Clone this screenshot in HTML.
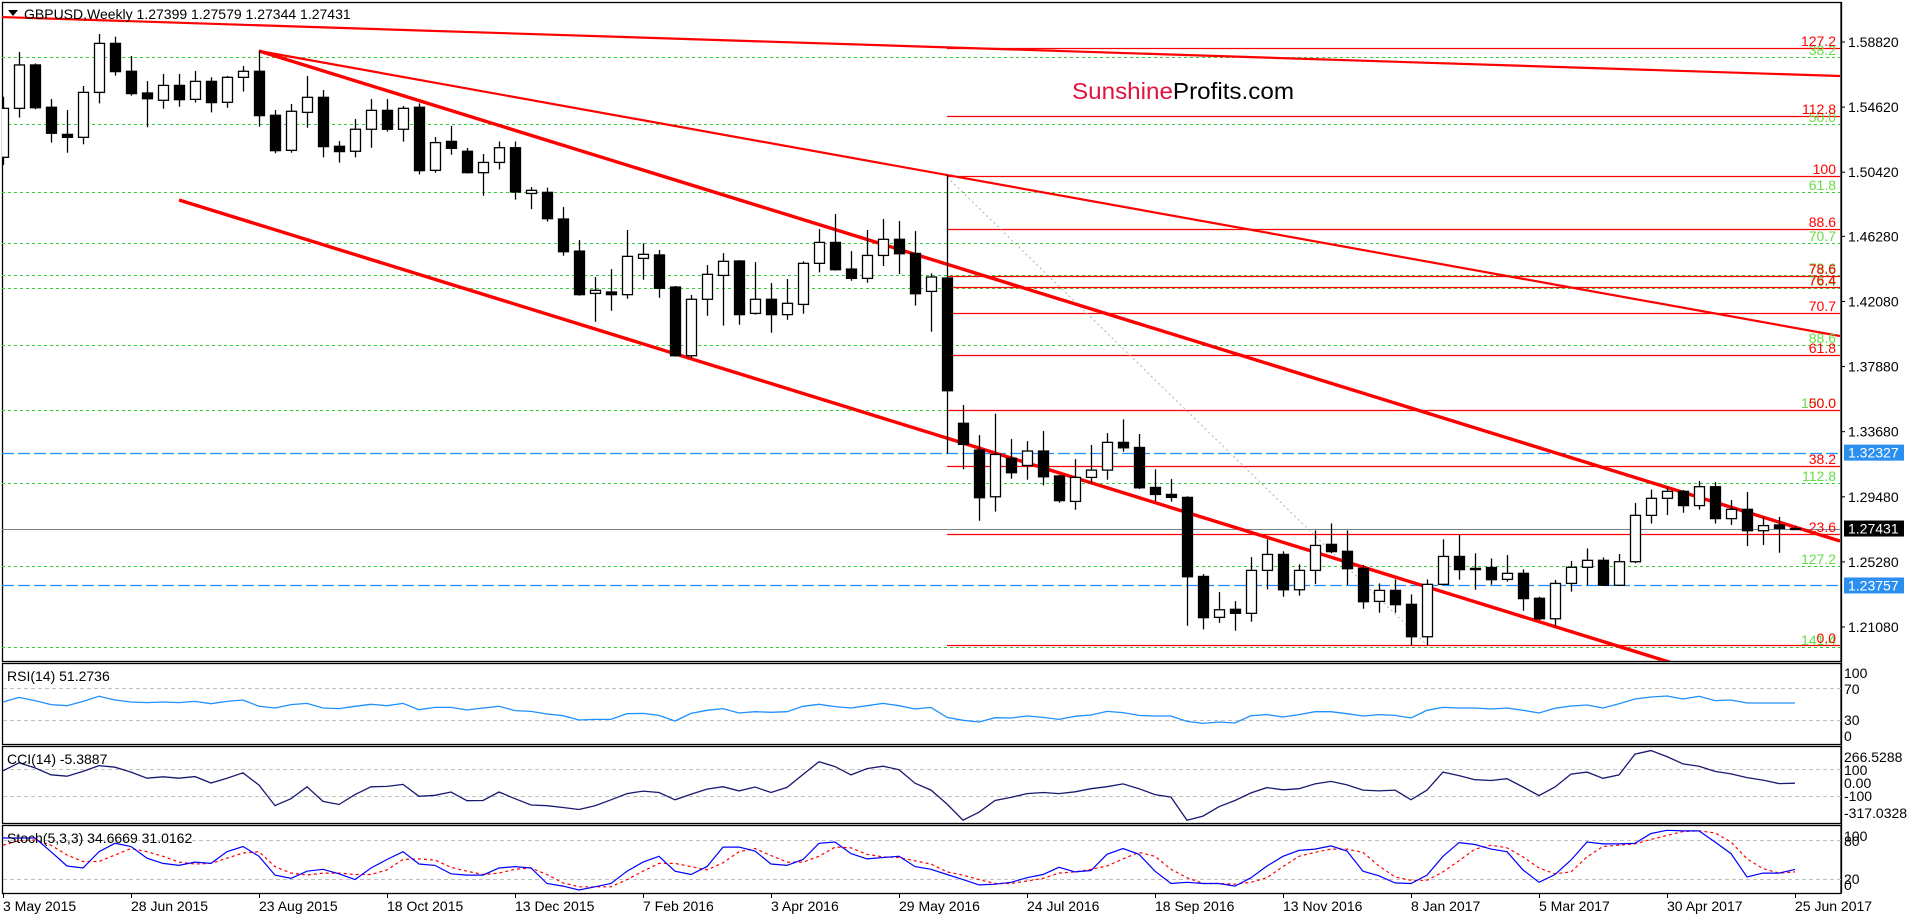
<!DOCTYPE html>
<html><head><meta charset="utf-8"><title>GBPUSD Weekly</title>
<style>
html,body{margin:0;padding:0;background:#fff;}
svg{display:block;font-family:"Liberation Sans",sans-serif;}
</style></head>
<body>
<svg id="chart" width="1908" height="920" viewBox="0 0 1908 920" xmlns="http://www.w3.org/2000/svg">
<defs><clipPath id="mainClip"><rect x="2" y="2" width="1838" height="659"/></clipPath></defs>
<rect x="0" y="0" width="1908" height="920" fill="#fff"/>
<g id="mainPanel"></g>
<g id="rsiPanel"></g>
<g id="cciPanel"></g>
<g id="stochPanel"></g>
<g id="axisG"></g>
</svg>
<script>
const opens=[1.5138,1.5454,1.5734,1.5461,1.5286,1.5267,1.5557,1.5873,1.5693,1.5553,1.5506,1.5602,1.5512,1.5628,1.5493,1.5654,1.5693,1.5409,1.5183,1.5428,1.5525,1.5209,1.5177,1.5319,1.5441,1.5319,1.5461,1.5054,1.5241,1.5177,1.5039,1.5105,1.5200,1.4905,1.4912,1.4740,1.4533,1.4260,1.4269,1.4252,1.4486,1.4508,1.4301,1.3858,1.4222,1.4376,1.4469,1.4131,1.4222,1.4123,1.4189,1.4454,1.4589,1.4417,1.4357,1.4505,1.4609,1.4518,1.4273,1.4359,1.3422,1.3249,1.2948,1.3196,1.3150,1.3243,1.3082,1.2918,1.3073,1.3120,1.3299,1.3266,1.3008,1.2963,1.2944,1.2434,1.2170,1.2222,1.2196,1.2473,1.2576,1.2348,1.2473,1.2641,1.2596,1.2486,1.2273,1.2344,1.2254,1.2045,1.2383,1.2563,1.2486,1.2492,1.2415,1.2454,1.2293,1.2161,1.2389,1.2493,1.2538,1.2377,1.2529,1.2828,1.2938,1.2983,1.2891,1.3013,1.2807,1.2867,1.2729,1.2766,1.2740];
const highs=[1.5529,1.5818,1.5744,1.5514,1.5443,1.5598,1.5934,1.5916,1.5792,1.5630,1.5676,1.5676,1.5695,1.5654,1.5663,1.5727,1.5826,1.5443,1.5482,1.5663,1.5572,1.5243,1.5385,1.5514,1.5514,1.5469,1.5486,1.5269,1.5340,1.5198,1.5159,1.5240,1.5240,1.4946,1.4942,1.4817,1.4604,1.4366,1.4417,1.4669,1.4583,1.4540,1.4308,1.4250,1.4443,1.4520,1.4475,1.4462,1.4327,1.4353,1.4467,1.4675,1.4772,1.4533,1.4669,1.4740,1.4727,1.4662,1.4389,1.5024,1.3540,1.3346,1.3484,1.3320,1.3307,1.3372,1.3089,1.3191,1.3282,1.3359,1.3447,1.3353,1.3125,1.3062,1.2951,1.2449,1.2333,1.2275,1.2559,1.2673,1.2596,1.2512,1.2731,1.2776,1.2731,1.2508,1.2389,1.2415,1.2318,1.2415,1.2673,1.2701,1.2583,1.2550,1.2572,1.2480,1.2303,1.2411,1.2534,1.2615,1.2557,1.2579,1.2908,1.2994,1.3009,1.2992,1.3050,1.3043,1.2927,1.2979,1.2818,1.2818,1.2758];
const lows=[1.5089,1.5394,1.5448,1.5233,1.5168,1.5222,1.5486,1.5665,1.5536,1.5332,1.5452,1.5465,1.5491,1.5428,1.5458,1.5562,1.5336,1.5164,1.5168,1.5329,1.5138,1.5104,1.5138,1.5200,1.5304,1.5239,1.5028,1.5039,1.5155,1.5033,1.4890,1.5060,1.4865,1.4804,1.4723,1.4503,1.4245,1.4077,1.4148,1.4226,1.4348,1.4232,1.3852,1.3841,1.4116,1.4052,1.4058,1.4123,1.4007,1.4090,1.4129,1.4396,1.4407,1.4342,1.4329,1.4437,1.4385,1.4181,1.4013,1.3228,1.3125,1.2793,1.2852,1.3064,1.3058,1.3021,1.2910,1.2864,1.3034,1.3058,1.3239,1.2998,1.2920,1.2917,1.2116,1.2092,1.2135,1.2084,1.2142,1.2350,1.2303,1.2310,1.2385,1.2583,1.2379,1.2226,1.2200,1.2200,1.1990,1.1990,1.2383,1.2413,1.2348,1.2381,1.2400,1.2213,1.2153,1.2110,1.2336,1.2377,1.2373,1.2373,1.2519,1.2775,1.2830,1.2845,1.2865,1.2775,1.2766,1.2630,1.2637,1.2587,1.2734];
const closes=[1.5454,1.5734,1.5458,1.5293,1.5267,1.5557,1.5873,1.5691,1.5549,1.5516,1.5602,1.5510,1.5628,1.5491,1.5654,1.5693,1.5407,1.5181,1.5435,1.5525,1.5207,1.5175,1.5319,1.5441,1.5319,1.5454,1.5052,1.5233,1.5196,1.5039,1.5105,1.5200,1.4914,1.4925,1.4742,1.4529,1.4252,1.4280,1.4252,1.4499,1.4512,1.4293,1.3858,1.4222,1.4383,1.4467,1.4123,1.4222,1.4123,1.4196,1.4454,1.4589,1.4413,1.4357,1.4505,1.4609,1.4516,1.4258,1.4366,1.3632,1.3286,1.2942,1.3221,1.3103,1.3243,1.3077,1.2923,1.3073,1.3120,1.3299,1.3264,1.3006,1.2963,1.2944,1.2432,1.2168,1.2219,1.2196,1.2473,1.2576,1.2348,1.2473,1.2634,1.2594,1.2484,1.2271,1.2344,1.2252,1.2045,1.2383,1.2563,1.2478,1.2478,1.2413,1.2454,1.2291,1.2161,1.2389,1.2493,1.2538,1.2377,1.2529,1.2828,1.2938,1.2983,1.2891,1.3013,1.2807,1.2867,1.2729,1.2762,1.2744,1.2743];
const rsiValues=[52.5,58.3,54.2,49.2,47.9,53.3,59.6,55,52.5,51.7,52.5,51.7,53.3,50.4,53.3,55,47.1,45,49.2,50.8,45,44.2,47.1,49.6,47.9,50.8,42.9,45.8,45.8,42.5,45,47.1,
41.7,40.8,37.5,35.4,30,30.8,30.8,37.9,38.3,35.8,28.8,38.3,42.1,44.2,38.8,40.4,39.6,40.4,47.1,49.6,46.7,45,47.9,50.8,47.9,43.8,45.8,33.3,29.6,27.5,32.9,
32.5,35,33.3,30.8,34.6,36.3,40.8,39.2,35.8,35,35,28.3,25.8,27.5,26.3,35.4,36.7,33.8,36.7,40.4,40.4,37.9,35,36.7,35.8,32.5,42.1,45.8,45,45,43.8,
45,42.1,38.8,44.6,47.5,48.8,45,50.4,56.3,58.8,60,56.3,59.6,54.2,55,51.3,51.3,51.3,51.3];
const cciValues=[87,146,108,57,47,82,125,113,77,32,42,32,44,-4,32,72,-19,-171,-120,-32,-140,-163,-90,-32,-29,-14,-102,-95,-70,-135,-133,-70,
-120,-167,-172,-185,-200,-172,-128,-82,-64,-74,-128,-87,-49,-31,-62,-33,-74,-36,59,154,118,56,103,121,95,-5,-56,-159,-279,-220,-133,
-110,-82,-74,-82,-69,-46,-31,-10,-46,-90,-108,-279,-249,-179,-133,-77,-38,-54,-46,-10,8,-18,-56,-62,-56,-128,-56,77,51,21,15,
28,-33,-97,-33,62,77,31,56,210,236,192,138,121,82,64,36,18,-8,-5];
const stochMain=[83,83,83,62,40,37,62,75,70,52,44,41,46,44,62,70,55,26,21,32,35,28,19,37,50,62,43,41,28,26,26,37,
39,37,13,9,3,8,13,32,46,55,32,27,39,69,69,63,43,41,50,75,77,59,51,53,55,39,35,27,19,11,12,
15,22,27,38,31,33,58,67,58,32,13,15,13,13,9,22,40,55,64,66,71,63,32,25,14,13,26,55,76,73,66,
62,34,15,27,49,77,74,74,75,90,95,94,94,77,59,23,29,29,34.7];
const stochSignal=[72,79,80,72,57,47,47,57,67,62,55,46,43,44,52,60,62,39,29,26,29,29,27,27,34,50,51,49,38,32,27,29,
35,37,27,14,8,8,8,19,32,44,44,39,34,45,62,67,56,46,46,55,69,68,58,54,53,48,43,31,26,19,13,
13,17,21,29,31,35,40,51,61,55,35,22,13,13,12,15,22,39,55,61,66,66,61,40,23,18,18,31,48,66,72,
68,54,37,28,31,54,70,72,74,81,87,93,94,91,77,51,36,29,31.0];
const priceTicks=[1.5882,1.5462,1.5042,1.4628,1.4208,1.3788,1.3368,1.2948,1.2528,1.2108];
const dateLabels=["3 May 2015","28 Jun 2015","23 Aug 2015","18 Oct 2015","13 Dec 2015","7 Feb 2016","3 Apr 2016","29 May 2016","24 Jul 2016","18 Sep 2016","13 Nov 2016","8 Jan 2017","5 Mar 2017","30 Apr 2017","25 Jun 2017"];
const fibRed=[["127.2",1.5844],["112.8",1.5405],["100",1.5018],["88.6",1.4676],["78.6",1.4373],["76.4",1.4302],["70.7",1.4134],["61.8",1.3863],["50.0",1.3508],["38.2",1.3147],["23.6",1.2708],["0.0",1.1992]];
const fibGreen=[["38.2",1.5786],["50.0",1.5353],["61.8",1.4915],["70.7",1.4586],["78.6",1.4379],["76.4",1.4295],["88.6",1.3928],["100.0",1.3508],["112.8",1.3038],["127.2",1.2502],["141.4",1.1979]];
const hLevels=[1.32327,1.23757];
const lastPrice=1.27431;

const NS="http://www.w3.org/2000/svg";
function el(tag,attrs,parent){const e=document.createElementNS(NS,tag);for(const k in attrs)e.setAttribute(k,attrs[k]);parent.appendChild(e);return e;}
const xOf=i=>3+16*i;
const yP=p=>42+(1.5882-p)*1550;
const yRsi=v=>744-v*0.8;
const yCci=v=>782.5-v*0.135;
const ySto=v=>892-v*0.65;
const AX=1841;

const main=document.getElementById('mainPanel');
const rsiG=document.getElementById('rsiPanel');
const cciG=document.getElementById('cciPanel');
const stoG=document.getElementById('stochPanel');
const axG=document.getElementById('axisG');

// panel frames
[[main,2,2,661],[rsiG,2,663,744],[cciG,2,746,823],[stoG,2,825,893]].forEach(function(a){
  const r=el('rect',{x:a[1]+0.5,y:a[2]+0.5,width:AX-a[1]-0.5,height:a[3]-a[2],fill:'none',stroke:'#000','stroke-width':1.3},a[0]);
  
  
});

const clipG=el('g',{'clip-path':'url(#mainClip)'},main);



// green fib dotted lines
fibGreen.forEach(function(f){
  const y=Math.round(yP(f[1]))+0.5;
  const ln=el('line',{x1:2,x2:AX,y1:y,y2:y,stroke:'#32cd32','stroke-width':1,'stroke-dasharray':'3,3'},clipG);
  
  
});
// blue dashed levels
hLevels.forEach(function(p){
  const y=Math.round(yP(p))+0.5;
  const ln=el('line',{x1:2,x2:AX,y1:y,y2:y,stroke:'#1e90ff','stroke-width':1.2,'stroke-dasharray':'12,4'},clipG);
  
  
});
// last price line
{const y=Math.round(yP(lastPrice))+0.5;
 const ln=el('line',{x1:2,x2:AX,y1:y,y2:y,stroke:'#808080','stroke-width':1},clipG);
 
 }
// red fib lines
fibRed.forEach(function(f){
  const y=Math.round(yP(f[1]))+0.5;
  const ln=el('line',{x1:947,x2:AX,y1:y,y2:y,stroke:'#ff0000','stroke-width':1.2},clipG);
  
  
});
// grey dotted diagonal
{const ln=el('line',{x1:947,y1:177,x2:1427,y2:645,stroke:'#b0b0b0','stroke-width':1,'stroke-dasharray':'2,3'},clipG);
 
 }
// red trend lines
[[0,17,1840,76,2.2,'long-term-resistance-line'],[259,51,1840,336,2.2,'declining-resistance-line'],[259,51,1840,541,3.4,'channel-upper-line'],[179,200,1840,715,3.4,'channel-lower-line']].forEach(function(t){
  const ln=el('line',{x1:t[0],y1:t[1],x2:t[2],y2:t[3],stroke:'#ff0000','stroke-width':t[4]},clipG);
  
  
});
// candles
for(let i=0;i<closes.length;i++){
  const x=xOf(i);
  const g=el('g',{},clipG);
  
  
  el('line',{x1:x+0.5,x2:x+0.5,y1:yP(highs[i]),y2:yP(lows[i]),stroke:'#000','stroke-width':1.3},g);
  const up=closes[i]>=opens[i];
  const top=yP(Math.max(opens[i],closes[i])), bot=yP(Math.min(opens[i],closes[i]));
  el('rect',{x:x-4.5,y:top,width:10,height:Math.max(1,bot-top),fill:up?'#fff':'#000',stroke:'#000','stroke-width':1.3},g);
}
// fib labels
fibGreen.forEach(function(f){
  const t=el('text',{x:1836,y:yP(f[1])-2,'text-anchor':'end','font-size':14,fill:'#66dd44'},main);
  t.textContent=f[0];
  
  
});
fibRed.forEach(function(f){
  const t=el('text',{x:1836,y:yP(f[1])-2,'text-anchor':'end','font-size':14,fill:'#ff0000'},main);
  t.textContent=f[0];
  
  
});
// header
{const tri=el('path',{d:'M8,10 L18,10 L13,16 Z',fill:'#000'},main);
 
 
 const t=el('text',{x:24,y:19,'font-size':14,fill:'#000'},main);
 t.textContent='GBPUSD,Weekly  1.27399 1.27579 1.27344 1.27431';
 
 
 const w=el('text',{x:1072,y:99,'font-size':23,textLength:222,lengthAdjust:'spacingAndGlyphs'},main);
 
 
 const s1=el('tspan',{fill:'#e0123c'},w); s1.textContent='Sunshine';
 const s2=el('tspan',{fill:'#000'},w); s2.textContent='Profits.com';}

// RSI
[70,30].forEach(function(v){
  const ln=el('line',{x1:3,x2:AX,y1:Math.round(yRsi(v))+0.5,y2:Math.round(yRsi(v))+0.5,stroke:'#c0c0c0','stroke-dasharray':'4,3'},rsiG);
  
  
});
{const pl=el('polyline',{points:rsiValues.map((v,i)=>xOf(i)+','+yRsi(v).toFixed(1)).join(' '),fill:'none',stroke:'#1e90ff','stroke-width':1.3},rsiG);
 
 
 const t=el('text',{x:7,y:681,'font-size':14},rsiG); t.textContent='RSI(14) 51.2736';
 
 }
// CCI
[100,-100].forEach(function(v){
  const ln=el('line',{x1:3,x2:AX,y1:Math.round(yCci(v))+0.5,y2:Math.round(yCci(v))+0.5,stroke:'#c0c0c0','stroke-dasharray':'4,3'},cciG);
  
  
});
{const pl=el('polyline',{points:cciValues.map((v,i)=>xOf(i)+','+yCci(v).toFixed(1)).join(' '),fill:'none',stroke:'#191970','stroke-width':1.3},cciG);
 
 
 const t=el('text',{x:7,y:764,'font-size':14},cciG); t.textContent='CCI(14) -5.3887';
 
 }
// Stoch
[80,20].forEach(function(v){
  const ln=el('line',{x1:3,x2:AX,y1:Math.round(ySto(v))+0.5,y2:Math.round(ySto(v))+0.5,stroke:'#c0c0c0','stroke-dasharray':'4,3'},stoG);
  
  
});
{const ps=el('polyline',{points:stochSignal.map((v,i)=>xOf(i)+','+ySto(v).toFixed(1)).join(' '),fill:'none',stroke:'#ff0000','stroke-width':1.2,'stroke-dasharray':'3,3'},stoG);
 
 
 const pm=el('polyline',{points:stochMain.map((v,i)=>xOf(i)+','+ySto(v).toFixed(1)).join(' '),fill:'none',stroke:'#0000ff','stroke-width':1.2},stoG);
 
 
 const t=el('text',{x:7,y:843,'font-size':14},stoG); t.textContent='Stoch(5,3,3) 34.6669 31.0162';
 
 }

// right axis line
{const ln=el('line',{x1:AX+0.5,x2:AX+0.5,y1:2,y2:893,stroke:'#000','stroke-width':1.3},axG);
 
 }
priceTicks.forEach(function(p){
  const y=yP(p);
  el('line',{x1:AX,x2:AX+4,y1:y,y2:y,stroke:'#000'},axG);
  const t=el('text',{x:1848,y:y+5,'font-size':14},axG);
  t.textContent=p.toFixed(5);
  
  
});
function boxLabel(p,bg,name){
  const y=yP(p);
  const r=el('rect',{x:1844,y:y-8,width:60,height:16,fill:bg},axG);
  
  
  const t=el('text',{x:1848,y:y+5,'font-size':14,fill:'#fff'},axG);
  t.textContent=p.toFixed(5);
  
  
}
boxLabel(hLevels[0],'#2b8ff0','resistance-price-tag');
boxLabel(hLevels[1],'#2b8ff0','support-price-tag');
boxLabel(lastPrice,'#000','last-price-tag');
// indicator axis labels
[["100",673],["70",689],["30",720],["0",736],["266.5288",757],["100",770],["0.00",783],["-100",796],["-317.0328",813],["100",836],["80",841],["20",879],["0",885]].forEach(function(a){
  const t=el('text',{x:1844,y:a[1]+5,'font-size':14},axG);
  t.textContent=a[0];
  
  
});
// date axis
dateLabels.forEach(function(d,k){
  const x=xOf(k*8);
  el('line',{x1:x+0.5,x2:x+0.5,y1:893,y2:898,stroke:'#000'},axG);
  const t=el('text',{x:x,y:911,'font-size':14},axG);
  t.textContent=d;
  
  
});
</script>
</body></html>
